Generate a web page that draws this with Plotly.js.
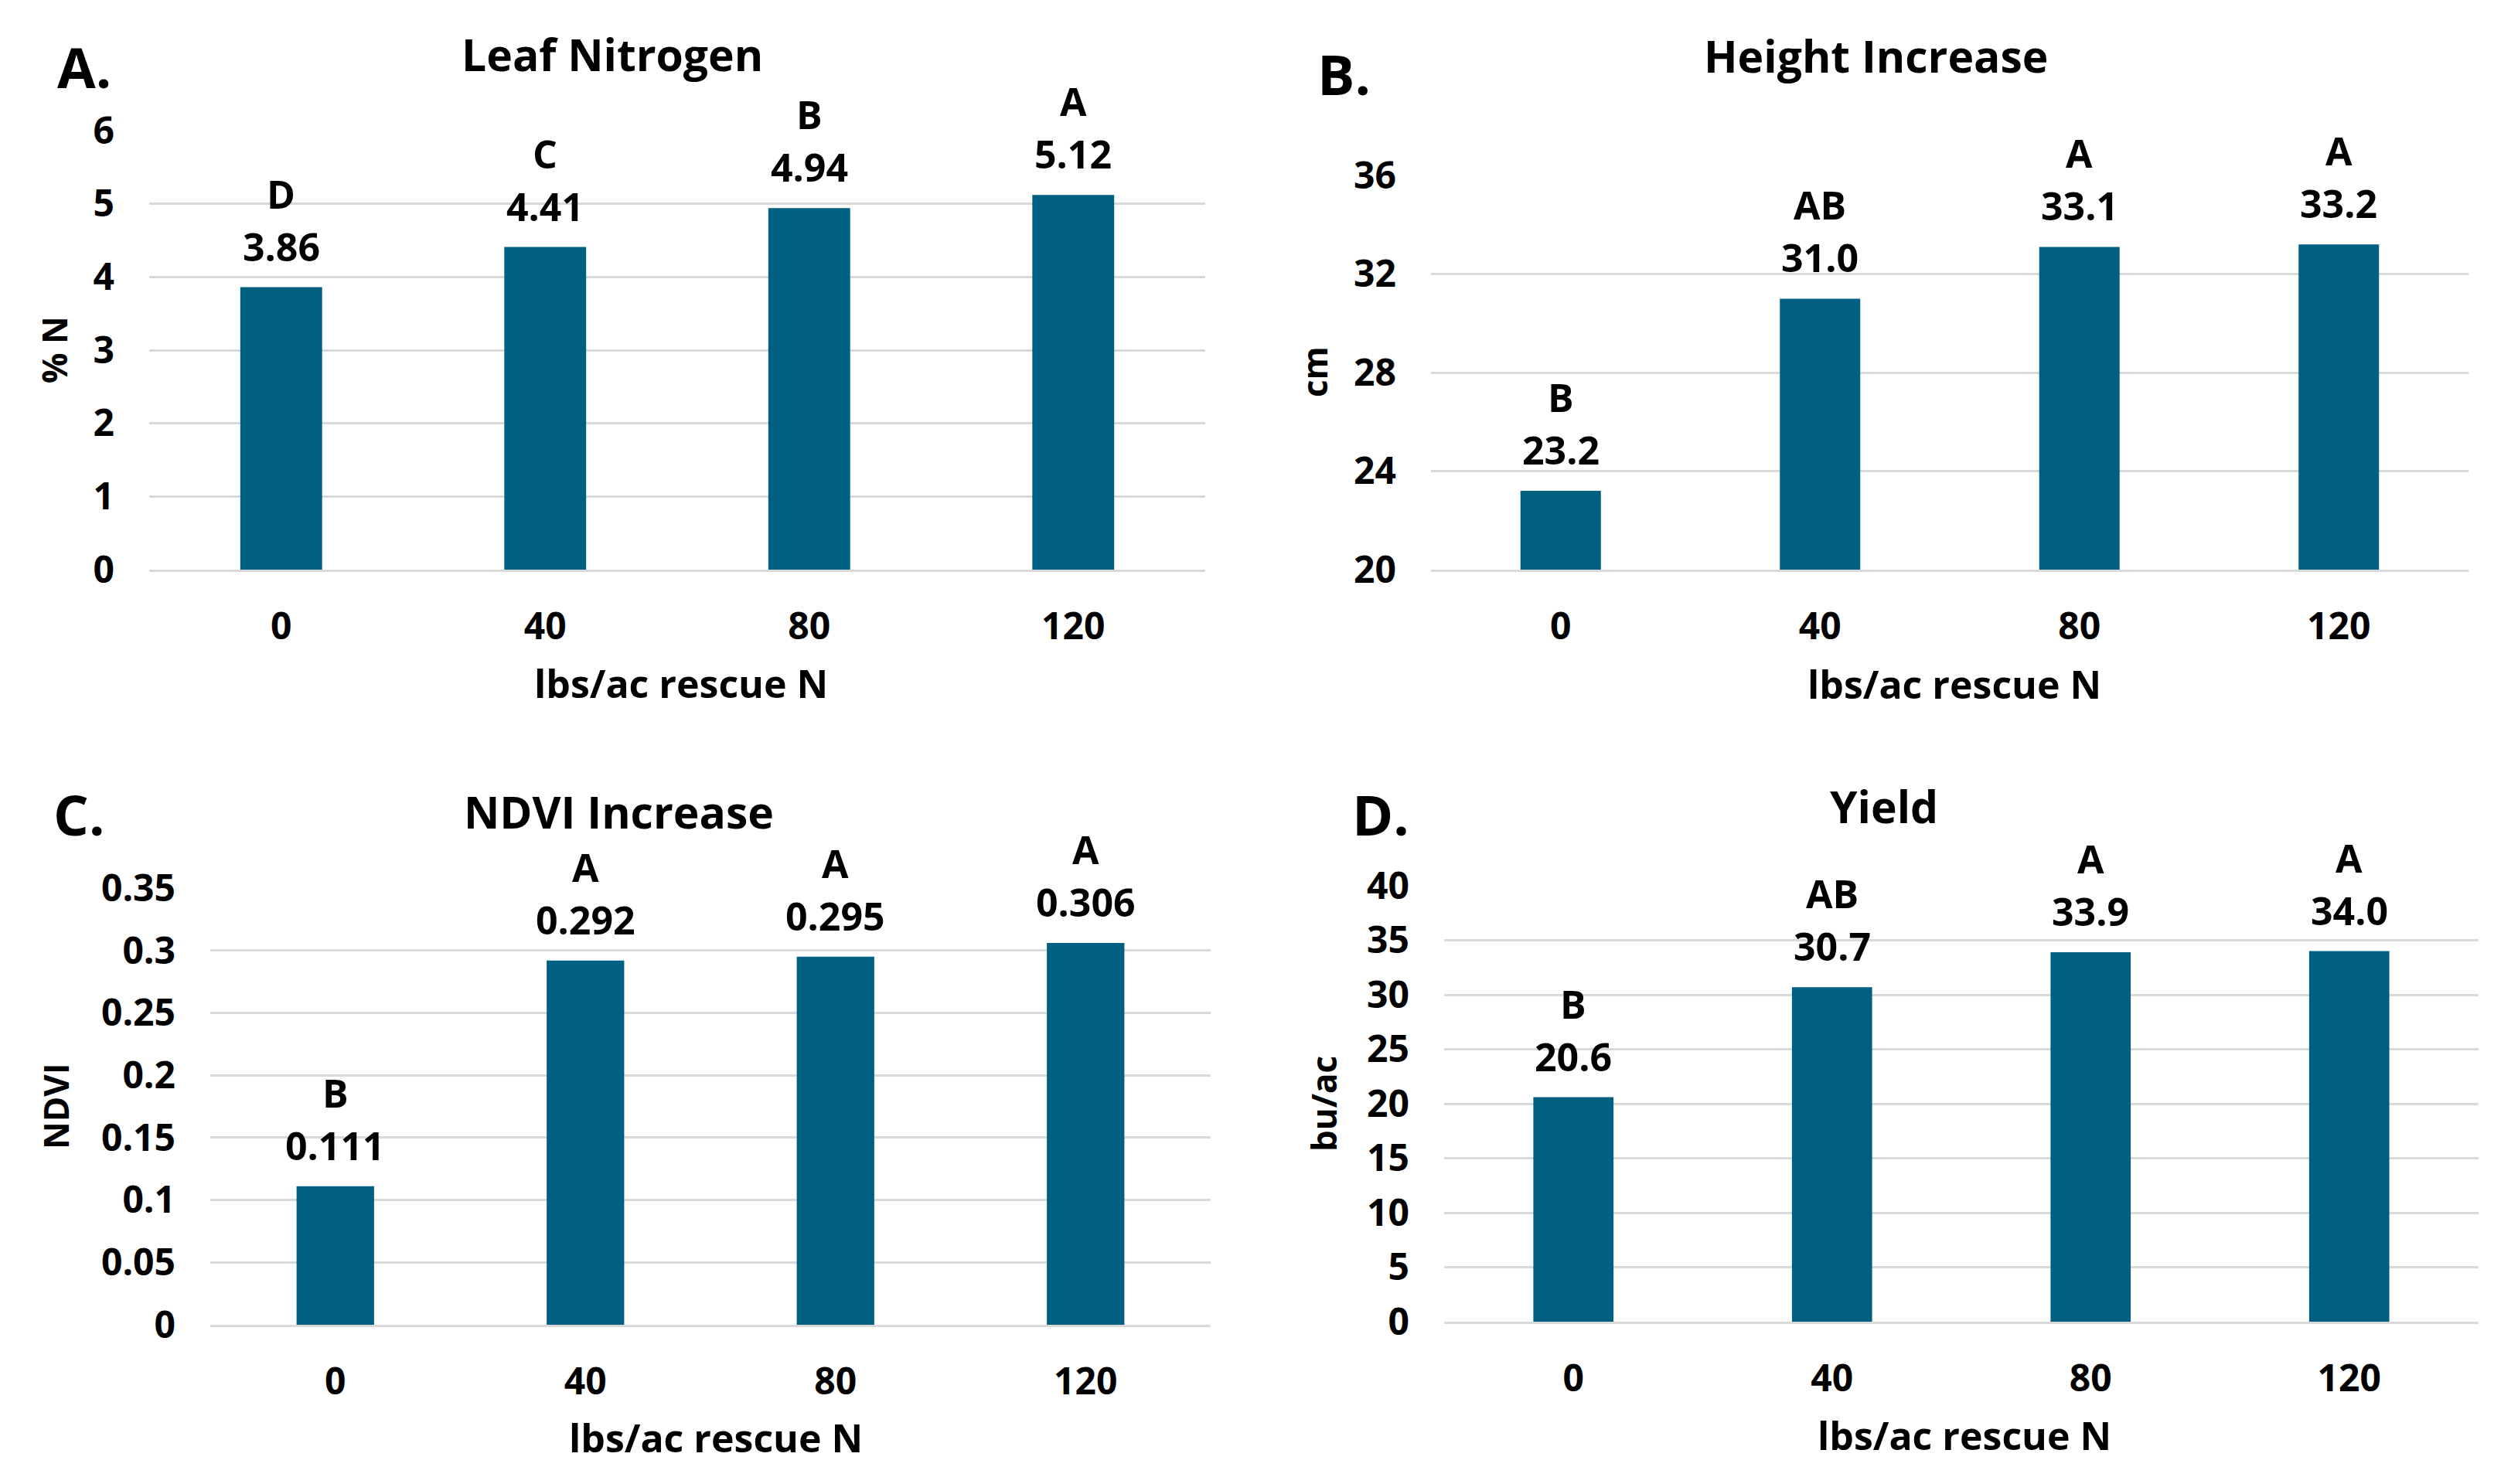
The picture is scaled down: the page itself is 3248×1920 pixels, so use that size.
<!DOCTYPE html>
<html>
<head>
<meta charset="utf-8">
<script src="https://cdn.plot.ly/plotly-3.0.1.min.js"></script>
<style>
  html, body { margin: 0; padding: 0; background: #ffffff; }
  #chart { width: 3248px; height: 1920px; }
</style>
</head>
<body>
<div id="chart"></div>
<script>
// ---------------- Data ----------------
const doses = ['0', '40', '80', '120'];

const leafN = [3.86, 4.41, 4.94, 5.12];
const leafNLetters = ['D', 'C', 'B', 'A'];

const heightInc = [23.2, 31.0, 33.1, 33.2];
const heightLetters = ['B', 'AB', 'A', 'A'];

const ndviInc = [0.111, 0.292, 0.295, 0.306];
const ndviLetters = ['B', 'A', 'A', 'A'];

const yieldBu = [20.6, 30.7, 33.9, 34.0];
const yieldLetters = ['B', 'AB', 'A', 'A'];

const ticksA = [0, 1, 2, 3, 4, 5, 6];
const ticksB = [20, 24, 28, 32, 36];
const ticksC = [0, 0.05, 0.1, 0.15, 0.2, 0.25, 0.3, 0.35];
const ticksCText = ['0', '0.05', '0.1', '0.15', '0.2', '0.25', '0.3', '0.35'];
const ticksD = [0, 5, 10, 15, 20, 25, 30, 35, 40];

const xTitle = 'lbs/ac rescue N';

// ---------------- Layout helpers ----------------
const W = 3248, H = 1920;
const fx = px => px / W;
const fy = py => 1 - py / H;

const FONT = 'Open Sans, Noto Sans, Liberation Sans, sans-serif';
const BAR = '#006082';
const GRID = '#d9d9d9';
const TXT = '#000000';
const WEIGHT = 'bold';

const panels = [
  { title: 'Leaf Nitrogen', letter: 'A.', vals: leafN, sig: leafNLetters, dec: 2,
    ax: '', box: [193, 169, 1559, 737], range: [0, 6], tv: ticksA, tt: ticksA.map(String),
    ytitle: '% N', titlePos: [792, 70], letterPos: [72, 86], xtPos: [881, 884], ytPos: [70, 453] },
  { title: 'Height Increase', letter: 'B.', vals: heightInc, sig: heightLetters, dec: 1,
    ax: '2', box: [1851, 227, 3193, 737], range: [20, 36], tv: ticksB, tt: ticksB.map(String),
    ytitle: 'cm', titlePos: [2427, 72], letterPos: [1702, 95], xtPos: [2528, 885], ytPos: [1700, 481] },
  { title: 'NDVI Increase', letter: 'C.', vals: ndviInc, sig: ndviLetters, dec: 3,
    ax: '3', box: [272, 1149, 1566, 1714], range: [0, 0.35], tv: ticksC, tt: ticksCText,
    ytitle: 'NDVI', titlePos: [800, 1050], letterPos: [67, 1053], xtPos: [926, 1860], ytPos: [72, 1431] },
  { title: 'Yield', letter: 'D.', vals: yieldBu, sig: yieldLetters, dec: 1,
    ax: '4', box: [1868, 1146, 3206, 1710], range: [0, 40], tv: ticksD, tt: ticksD.map(String),
    ytitle: 'bu/ac', titlePos: [2437, 1043], letterPos: [1747, 1053], xtPos: [2541, 1857], ytPos: [1712, 1428] }
];

const data = [];
const annotations = [];
const layout = {
  width: W, height: H,
  margin: { l: 0, r: 0, t: 0, b: 0 },
  paper_bgcolor: '#ffffff',
  plot_bgcolor: '#ffffff',
  showlegend: false,
  font: { family: FONT, color: TXT, size: 48, weight: WEIGHT },
  annotations: annotations
};

panels.forEach(p => {
  const xa = 'x' + p.ax, ya = 'y' + p.ax;
  data.push({
    type: 'bar',
    x: doses,
    y: p.vals,
    xaxis: xa, yaxis: ya,
    width: 0.31,
    marker: { color: BAR, line: { width: 0 } },
    hoverinfo: 'skip'
  });
  layout['xaxis' + p.ax] = {
    domain: [fx(p.box[0]), fx(p.box[2])],
    anchor: ya,
    type: 'category',
    categoryorder: 'array', categoryarray: doses,
    range: [-0.5, doses.length - 0.5],
    autorange: false,
    showgrid: false,
    zeroline: false,
    showline: true, linecolor: GRID, linewidth: 3,
    ticks: '',
    ticklabelstandoff: 29,
    tickfont: { family: FONT, size: 48, color: TXT, weight: WEIGHT },
    fixedrange: true
  };
  layout['yaxis' + p.ax] = {
    domain: [fy(p.box[3]), fy(p.box[1])],
    anchor: xa,
    range: p.range,
    autorange: false,
    tickmode: 'array', tickvals: p.tv, ticktext: p.tt,
    showgrid: true, gridcolor: GRID, gridwidth: 3,
    zeroline: false, showline: false,
    ticks: '',
    ticklabelstandoff: 44,
    tickfont: { family: FONT, size: 48, color: TXT, weight: WEIGHT },
    fixedrange: true
  };

  // value and significance labels (x = category index on the category axis)
  p.vals.forEach((v, i) => {
    annotations.push({
      xref: xa, yref: ya, x: i, y: v,
      text: v.toFixed(p.dec), showarrow: false,
      xanchor: 'center', yanchor: 'middle', yshift: 53,
      font: { family: FONT, size: 50, color: TXT, weight: WEIGHT }
    });
    annotations.push({
      xref: xa, yref: ya, x: i, y: v,
      text: p.sig[i], showarrow: false,
      xanchor: 'center', yanchor: 'middle', yshift: 121,
      font: { family: FONT, size: 50, color: TXT, weight: WEIGHT }
    });
  });

  // panel title
  annotations.push({
    xref: 'paper', yref: 'paper', x: fx(p.titlePos[0]), y: fy(p.titlePos[1]),
    text: p.title, showarrow: false, xanchor: 'center', yanchor: 'middle',
    font: { family: FONT, size: 57, color: TXT, weight: 'bold' }
  });
  // panel letter
  annotations.push({
    xref: 'paper', yref: 'paper', x: fx(p.letterPos[0]), y: fy(p.letterPos[1]),
    text: p.letter, showarrow: false, xanchor: 'left', yanchor: 'middle',
    font: { family: FONT, size: 72, color: TXT, weight: 'bold' }
  });
  // x axis title
  annotations.push({
    xref: 'paper', yref: 'paper', x: fx(p.xtPos[0]), y: fy(p.xtPos[1]),
    text: xTitle, showarrow: false, xanchor: 'center', yanchor: 'middle',
    font: { family: FONT, size: 50, color: TXT, weight: WEIGHT }
  });
  // y axis title
  annotations.push({
    xref: 'paper', yref: 'paper', x: fx(p.ytPos[0]), y: fy(p.ytPos[1]),
    text: p.ytitle, showarrow: false, xanchor: 'center', yanchor: 'middle',
    textangle: -90,
    font: { family: FONT, size: 44, color: TXT, weight: WEIGHT }
  });
});

Plotly.newPlot('chart', data, layout, { displayModeBar: false, staticPlot: true });
</script>
</body>
</html>
